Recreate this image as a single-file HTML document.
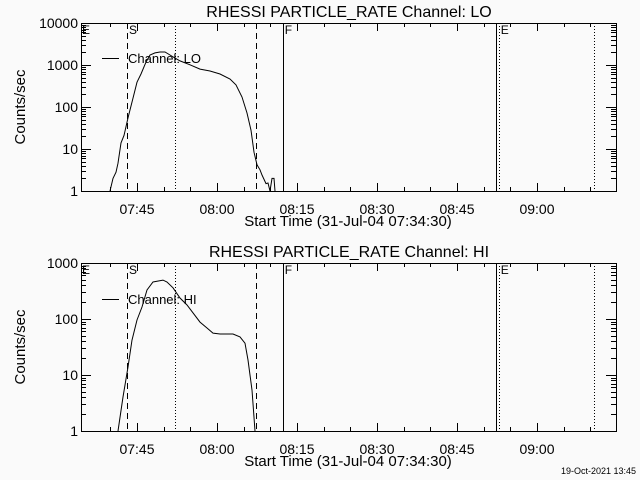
<!DOCTYPE html>
<html><head><meta charset="utf-8"><style>
body{margin:0;background:#fafafa;}
svg{display:block;font-family:"Liberation Sans",sans-serif;}
</style></head><body>
<svg id="c" width="640" height="480" viewBox="0 0 640 480">
<rect width="640" height="480" fill="#fafafa"/>
</svg>
<script>
// time axis: minutes since 07:34:30
const xTickLabels=["07:45","08:00","08:15","08:30","08:45","09:00"];
const xTickMinutes=[10.5,25.5,40.5,55.5,70.5,85.5];
const loTimes=[5.44,6.0,6.56,6.94,7.5,8.06,8.81,9.75,10.5,11.25,12.19,12.94,13.88,14.81,15.75,16.69,17.63,18.56,20.44,22.31,24.19,26.06,27.94,29.06,30.19,31.13,31.88,32.44,33.0,33.56,33.94,34.69,35.06,35.44,35.81,36.19,36.38];
const loValues=[1,2.0,2.8,4.6,14,21,55,163,390,610,1170,1730,1940,2040,2040,1730,1460,1250,1010,800,720,610,465,335,173,72,28,8.4,4.2,3.2,2.4,1.5,1.55,1,2,2,1];
const hiTimes=[6.94,7.88,8.81,9.56,10.5,11.44,12.38,13.5,15.38,16.13,17.25,18.56,19.88,22.31,23.63,24.75,26.06,28.5,29.81,30.75,31.31,32.06,32.63];
const hiValues=[1,4.05,13.9,42,96,164,330,458,495,458,360,237,178,88,69,56,54,54,48,37,18.5,5.4,1];
const loYTicks=["1","10","100","1000","10000"];
const hiYTicks=["1","10","100","1000"];
const markerTimes=[8.63,17.6,32.8,37.9,77.8,78.4,96.2];
const markerStyles=["dash","dot","dash","solid","solid","dot","dot"];
const markerLabels=[["S",9.0],["F",38.2],["E",78.7]];

const NS="http://www.w3.org/2000/svg";
const svg=document.getElementById('c');
const X0=81,X1=616,TMAX=(616-81)/(80/15);
const xs=t=>X0+(t/TMAX)*(X1-X0);
function el(tag,attrs,parent){const e=document.createElementNS(NS,tag);for(const k in attrs)e.setAttribute(k,attrs[k]);(parent||svg).appendChild(e);return e;}

function panel(name,top,bot,decades,yTicks,times,values,title,legendY){
  const g=el('g',{});
  
  
  const ys=v=>bot-Math.log10(Math.max(v,1))/decades*(bot-top);
  markerTimes.forEach((t,i)=>{
    const s=markerStyles[i];
    const l=el('line',{x1:Math.round(xs(t))+0.5,x2:Math.round(xs(t))+0.5,y1:top,y2:bot,stroke:'#000','stroke-width':1,'stroke-dasharray':s=='dash'?'6,4':s=='dot'?'1,2':'none'},g);
    
    
  });
  markerLabels.forEach(m=>{
    const t=el('text',{x:xs(m[1]),y:top+11,'font-size':12},g);t.textContent=m[0];
    
    
  });
  const e0=el('text',{x:82,y:top+11,'font-size':12},g);e0.textContent='E';
  
  
  const b=el('rect',{x:X0+0.5,y:top+0.5,width:X1-X0,height:bot-top,fill:'none',stroke:'#000','stroke-width':1},g);
  
  
  for(let d=0;d<decades;d++){for(let k=1;k<=10;k++){
    const y=Math.round(ys(k*Math.pow(10,d)))+0.5;const len=k==1||k==10?10:5;
    el('line',{x1:X0,x2:X0+len,y1:y,y2:y,stroke:'#000'},g);
    el('line',{x1:X1,x2:X1-len,y1:y,y2:y,stroke:'#000'},g);
  }}
  yTicks.forEach((lab,i)=>{
    const t=el('text',{x:78,y:ys(Math.pow(10,i))+5,'font-size':14,'text-anchor':'end'},g);t.textContent=lab;
    
    
  });
  for(let m=5.5;m<TMAX;m+=5){const x=Math.round(xs(m))+0.5;const maj=Math.abs(((m-10.5)%15+15)%15)<0.01;
    el('line',{x1:x,x2:x,y1:bot,y2:bot-(maj?8:4),stroke:'#000'},g);
    el('line',{x1:x,x2:x,y1:top,y2:top+(maj?8:4),stroke:'#000'},g);}
  xTickLabels.forEach((lab,i)=>{
    const t=el('text',{x:xs(xTickMinutes[i]),y:bot+23,'font-size':14,'text-anchor':'middle'},g);t.textContent=lab;
    
    
  });
  const xt=el('text',{x:348,y:bot+35,'font-size':15,'text-anchor':'middle'},g);xt.textContent='Start Time (31-Jul-04 07:34:30)';
  
  
  const yt=el('text',{x:0,y:0,'font-size':15,'text-anchor':'middle',transform:`translate(25,${(top+bot)/2}) rotate(-90)`},g);yt.textContent='Counts/sec';
  
  
  const tt=el('text',{x:349,y:top-6,'font-size':16,'text-anchor':'middle'},g);tt.textContent=title;
  
  
  const pts=times.map((t,i)=>xs(t).toFixed(1)+','+ys(values[i]).toFixed(1)).join(' ');
  const pl=el('polyline',{points:pts,fill:'none',stroke:'#000','stroke-width':1},g);
  
  
  const lg=el('g',{},g);
  
  
  el('line',{x1:102,x2:119,y1:legendY+0.5,y2:legendY+0.5,stroke:'#000'},lg);
  const lt=el('text',{x:128,y:legendY+5,'font-size':13},lg);lt.textContent=title.split(' ').slice(-2).join(' ');
}
panel('lo',23,191,4,loYTicks,loTimes,loValues,'RHESSI PARTICLE_RATE Channel: LO',58);
panel('hi',263,431,3,hiYTicks,hiTimes,hiValues,'RHESSI PARTICLE_RATE Channel: HI',299);
const d=el('text',{x:636,y:474,'font-size':9,'text-anchor':'end'});d.textContent='19-Oct-2021 13:45';


</script>
</body></html>
